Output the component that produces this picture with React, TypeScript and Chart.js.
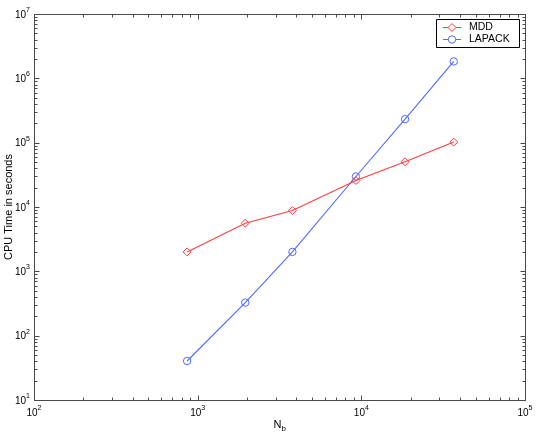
import React, { useEffect, useRef } from "react";
import { Chart, registerables } from "chart.js";

Chart.register(...registerables);

const nb = [862, 1954, 3791, 9268, 18500, 36700];
const mddTimes = [2005, 5610, 8810, 25800, 50400, 102000];
const lapackTimes = [40.4, 327, 2005, 29800, 232000, 1830000];
const xDecades = [2, 3, 4, 5];
const yDecades = [1, 2, 3, 4, 5, 6, 7];
const seriesNames = ["MDD", "LAPACK"];
const xTitle = "N";
const xTitleSub = "b";
const yTitle = "CPU Time in seconds";

const RED = "rgb(255,60,60)";
const BLUE = "rgb(80,105,255)";
const AXIS = "#4a4a4a";
const FONT = "Liberation Sans, Arial, Helvetica, sans-serif";

function drawAxes(chart: any) {
  const { ctx, chartArea } = chart;
  const xs = chart.scales.x;
  const ys = chart.scales.y;
  const L = Math.round(chartArea.left) + 0.5;
  const R = Math.round(chartArea.right) + 0.5;
  const T = Math.round(chartArea.top) + 0.5;
  const B = Math.round(chartArea.bottom) + 0.5;
  ctx.save();
  ctx.strokeStyle = AXIS;
  ctx.lineWidth = 1;
  ctx.beginPath();
  ctx.rect(L, T, R - L, B - T);
  for (let i = 0; i < xDecades.length; i++) {
    const d = xDecades[i];
    for (let j = 1; j <= 9; j++) {
      if (j > 1 && i === xDecades.length - 1) break;
      const v = j * Math.pow(10, d);
      const px = Math.round(xs.getPixelForValue(v)) + 0.5;
      const len = j === 1 ? 5 : 3;
      ctx.moveTo(px, B);
      ctx.lineTo(px, B - len);
      ctx.moveTo(px, T);
      ctx.lineTo(px, T + len);
    }
  }
  for (let i = 0; i < yDecades.length; i++) {
    const d = yDecades[i];
    for (let j = 1; j <= 9; j++) {
      if (j > 1 && i === yDecades.length - 1) break;
      const v = j * Math.pow(10, d);
      const py = Math.round(ys.getPixelForValue(v)) + 0.5;
      const len = j === 1 ? 5 : 3;
      ctx.moveTo(L, py);
      ctx.lineTo(L + len, py);
      ctx.moveTo(R, py);
      ctx.lineTo(R - len, py);
    }
  }
  ctx.stroke();
  ctx.beginPath();

  ctx.fillStyle = "#000";
  const drawPow = (exp: number, cx: number, cy: number, align: string) => {
    ctx.font = `10px ${FONT}`;
    const baseW = ctx.measureText("10").width;
    ctx.font = `7px ${FONT}`;
    const expW = ctx.measureText(String(exp)).width;
    const total = baseW + expW;
    let x0 = cx - total / 2;
    if (align === "right") x0 = cx - total;
    ctx.textBaseline = "middle";
    ctx.textAlign = "left";
    ctx.font = `10px ${FONT}`;
    ctx.fillText("10", x0, cy);
    ctx.font = `7px ${FONT}`;
    ctx.fillText(String(exp), x0 + baseW, cy - 5);
  };
  for (const d of xDecades) {
    const px = xs.getPixelForValue(Math.pow(10, d));
    drawPow(d, px, chartArea.bottom + 13, "center");
  }
  for (const d of yDecades) {
    const py = ys.getPixelForValue(Math.pow(10, d));
    drawPow(d, chartArea.left - 4, py + 1, "right");
  }

  ctx.font = `11px ${FONT}`;
  ctx.textBaseline = "middle";
  ctx.textAlign = "left";
  const nW = ctx.measureText(xTitle).width;
  const cx = (chartArea.left + chartArea.right) / 2;
  ctx.fillText(xTitle, cx - 6, 425);
  ctx.font = `8px ${FONT}`;
  ctx.fillText(xTitleSub, cx - 6 + nW, 429);

  ctx.save();
  ctx.translate(9, (chartArea.top + chartArea.bottom) / 2);
  ctx.rotate(-Math.PI / 2);
  ctx.font = `11px ${FONT}`;
  ctx.textAlign = "center";
  ctx.textBaseline = "middle";
  ctx.fillText(yTitle, 0, 0);
  ctx.restore();
  ctx.restore();
}

function drawLegend(chart: any) {
  const { ctx } = chart;
  ctx.save();
  const bx = 436.5, by = 19.5, bw = 83, bh = 28;
  ctx.fillStyle = "#fff";
  ctx.fillRect(bx, by, bw, bh);
  ctx.strokeStyle = "#000";
  ctx.lineWidth = 1;
  ctx.beginPath();
  ctx.rect(bx, by, bw, bh);
  ctx.stroke();
  const colors = [RED, BLUE];
  const rows = [27.5, 39.5];
  for (let i = 0; i < 2; i++) {
    const y = rows[i];
    ctx.strokeStyle = colors[i];
    ctx.lineWidth = 1;
    ctx.beginPath();
    ctx.moveTo(443, y);
    ctx.lineTo(461, y);
    ctx.stroke();
    ctx.beginPath();
    if (i === 0) {
      ctx.moveTo(452, y - 4);
      ctx.lineTo(456, y);
      ctx.lineTo(452, y + 4);
      ctx.lineTo(448, y);
      ctx.closePath();
    } else {
      ctx.arc(452, y, 3.7, 0, Math.PI * 2);
    }
    ctx.fillStyle = "#fff";
    ctx.fill();
    ctx.stroke();
    ctx.beginPath();
    ctx.fillStyle = "#000";
    ctx.font = `10.5px ${FONT}`;
    ctx.textAlign = "left";
    ctx.textBaseline = "middle";
    ctx.fillText(seriesNames[i], 469, y);
  }
  ctx.restore();
}

const axesPlugin = {
  id: "matlabAxes",
  afterDraw(chart: any) {
    drawAxes(chart);
    drawLegend(chart);
  },
};

export default function App() {
  const ref = useRef<HTMLCanvasElement>(null);
  useEffect(() => {
    document.body.style.margin = "0";
    const canvas = ref.current!;
    const chart = new Chart(canvas, {
      type: "scatter",
      data: {
        datasets: [
          {
            label: seriesNames[0],
            data: nb.map((x, i) => ({ x, y: mddTimes[i] })),
            showLine: true,
            borderColor: RED,
            backgroundColor: "rgba(0,0,0,0)",
            borderWidth: 1.1,
            pointStyle: "rectRot",
            pointRadius: 4,
            pointBorderWidth: 1,
            pointBorderColor: RED,
            pointBackgroundColor: "rgba(0,0,0,0)",
            tension: 0,
          },
          {
            label: seriesNames[1],
            data: nb.map((x, i) => ({ x, y: lapackTimes[i] })),
            showLine: true,
            borderColor: BLUE,
            backgroundColor: "rgba(0,0,0,0)",
            borderWidth: 1.1,
            pointStyle: "circle",
            pointRadius: 3.7,
            pointBorderWidth: 1,
            pointBorderColor: BLUE,
            pointBackgroundColor: "rgba(0,0,0,0)",
            tension: 0,
          },
        ],
      },
      options: {
        responsive: false,
        animation: false,
        devicePixelRatio: 1,
        layout: { padding: { left: 34, top: 14, right: 12, bottom: 36 } },
        plugins: { legend: { display: false }, tooltip: { enabled: false } },
        scales: {
          x: { type: "logarithmic", min: 100, max: 100000, display: false },
          y: { type: "logarithmic", min: 10, max: 10000000, display: false },
        },
      },
      plugins: [axesPlugin],
    });
    return () => chart.destroy();
  }, []);
  return (
    <div style={{ position: "absolute", left: 0, top: 0, width: 537, height: 436, background: "#fff" }}>
      <canvas ref={ref} width={537} height={436} />
    </div>
  );
}
